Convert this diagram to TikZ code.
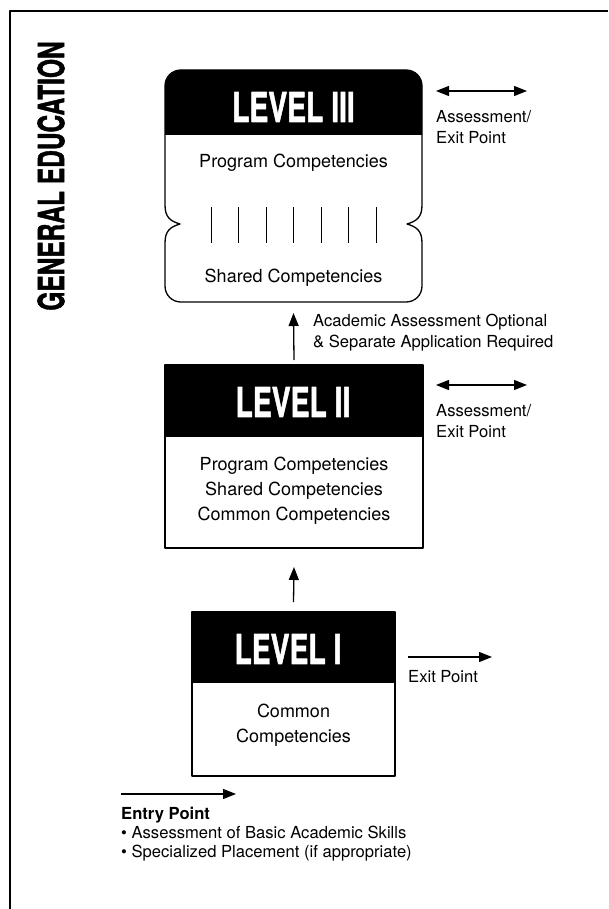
\documentclass[tikz,border=0pt]{standalone}
\usepackage{fontspec}
\setmainfont{TeX Gyre Heros}
\newfontfamily\headfont[FakeBold=1.6]{texgyreheros-bold.otf}
\usetikzlibrary{arrows.meta,calc}
\begin{document}
\begin{tikzpicture}[x=1pt,y=-1pt,line join=round,
  arr/.style={line width=1.3pt,-{Triangle[length=13pt,width=10pt]}},
  darr/.style={line width=1.3pt,{Triangle[length=13pt,width=10pt]}-{Triangle[length=13pt,width=10pt]}},
  boxarea/.style={inner sep=0pt,outer sep=0pt},
  boxline/.style={draw,line width=1.3pt},
  head/.style={text=white,inner sep=0pt,font=\fontsize{41}{41}\headfont},
  body/.style={inner sep=0pt,align=center,font=\fontsize{18}{25}\selectfont},
  side/.style={inner sep=0pt,anchor=west,align=left,font=\fontsize{16.6}{21}\selectfont}]
\useasboundingbox (0,0) rectangle (608,909);
\fill[white] (0,0) rectangle (608,909);
\draw[line width=2pt] (9.5,909) -- (9.5,11) -- (608,11);

% title
\node[rotate=90,inner sep=0pt,font=\fontsize{36}{36}\headfont] (title) at (51,176) {\scalebox{0.68}[1]{GENERAL EDUCATION}};

% ---------- Level III ----------
\node[boxarea,minimum width=257pt,minimum height=232pt] (l3) at (293.5,186) {};
\fill (165,135) -- (165,86) .. controls (165,77) and (172,70) .. (181,70) -- (406,70)
  .. controls (415,70) and (422,77) .. (422,86) -- (422,135) -- cycle;
\draw[line width=1.3pt] (181,70) -- (406,70) .. controls (415,70) and (422,77) .. (422,86)
  -- (422,205) .. controls (422,217) and (417,221) .. (407,224)
  .. controls (417,227) and (422,231) .. (422,243)
  -- (422,286) .. controls (422,295) and (415,302) .. (406,302)
  -- (181,302) .. controls (172,302) and (165,295) .. (165,286)
  -- (165,243) .. controls (165,231) and (170,227) .. (180,224)
  .. controls (170,221) and (165,217) .. (165,205)
  -- (165,86) .. controls (165,77) and (172,70) .. (181,70) -- cycle;
\node[head] (t3) at (293.5,107) {\scalebox{0.69}[1]{LEVEL III}};
\node[body] (p3) at (293.5,163) {Program Competencies};
\node[body] (s3) at (293.5,278) {Shared Competencies};
\foreach \xx in {211,238,266,293,321,348,376}
  \draw[line width=1pt] (\xx,207) -- (\xx,243);

% ---------- Level II ----------
\node[boxarea,minimum width=258pt,minimum height=183pt] (l2) at (294,456.5) {};
\fill (l2.north west) rectangle ($(l2.north east)+(0,72)$);
\draw[boxline] (l2.north west) rectangle (l2.south east);
\node[head] (t2) at (293,402) {\scalebox{0.69}[1]{LEVEL II}};
\node[body] (b2) at (294,491) {Program Competencies\\Shared Competencies\\Common Competencies};

% ---------- Level I ----------
\node[boxarea,minimum width=203pt,minimum height=164pt] (l1) at (293.5,694) {};
\fill (l1.north west) rectangle ($(l1.north east)+(0,71)$);
\draw[boxline] (l1.north west) rectangle (l1.south east);
\node[head] (t1) at (288,649) {\scalebox{0.69}[1]{LEVEL I}};
\node[body] (b1) at (293.5,725.5) {Common\\Competencies};

% ---------- vertical arrows ----------
\draw[arr] ([yshift=5pt]l2.north) -- ([yshift=-11pt]l3.south);
\draw[arr] ([yshift=10pt]l1.north) -- ([yshift=-19pt]l2.south);
\node[side] (acad) at (313,333) {Academic Assessment Optional\\\& Separate Application Required};

% ---------- side arrows ----------
\coordinate (a3s) at (436,91);
\coordinate (a3e) at (527,91);
\draw[darr] (a3s) -- (a3e);
\node[side] (x3) at (436,127.5) {Assessment/\\Exit Point};

\coordinate (a2s) at (436,385);
\coordinate (a2e) at (527,385);
\draw[darr] (a2s) -- (a2e);
\node[side] (x2) at (436,421.5) {Assessment/\\Exit Point};

\coordinate (a1s) at (408,657);
\coordinate (a1e) at (492,657);
\draw[arr] (a1s) -- (a1e);
\node[side] (x1) at (408,677) {Exit Point};

\coordinate (ens) at (121,794);
\coordinate (ene) at (236,794);
\draw[arr] (ens) -- (ene);
\node[side,font=\fontsize{16.6}{19}\selectfont] (entry) at (121,834) {\textbf{Entry Point}\\\textbullet{} Assessment of Basic Academic Skills\\\textbullet{} Specialized Placement (if appropriate)};
\end{tikzpicture}
\end{document}
